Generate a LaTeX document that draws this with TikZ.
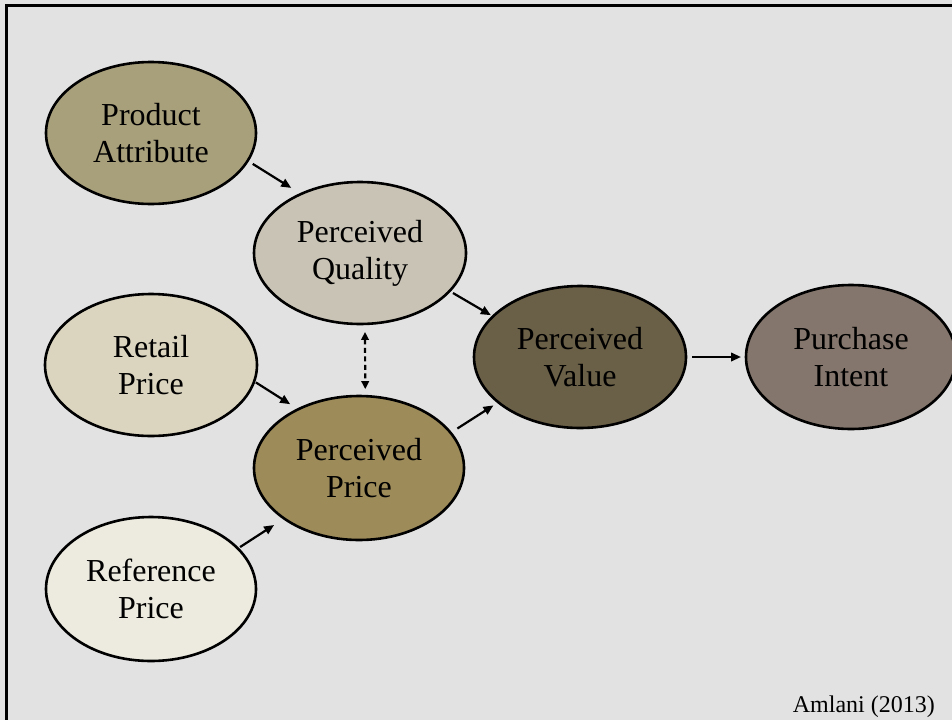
\documentclass[tikz,border=0pt]{standalone}
\usepackage{fontspec}
\setmainfont{Liberation Serif}
\usetikzlibrary{arrows.meta,shapes.geometric}
\definecolor{cBG}{HTML}{E2E2E2}
\definecolor{cPA}{HTML}{A89F7B}
\definecolor{cPQ}{HTML}{C9C3B5}
\definecolor{cRP}{HTML}{DBD5BF}
\definecolor{cPP}{HTML}{9D8B5A}
\definecolor{cRF}{HTML}{EDEBE0}
\definecolor{cPV}{HTML}{6A5F47}
\definecolor{cPI}{HTML}{84766C}
\begin{document}
\begin{tikzpicture}[x=1pt,y=-1pt,
  bub/.style={ellipse,draw=black,line width=2.6pt,minimum width=210pt,minimum height=142pt,
    inner sep=0pt,outer sep=0pt,align=center,font=\fontsize{32}{37}\selectfont,text=black},
  conn/.style={line width=2.2pt,-{Triangle[length=10pt,width=8.5pt]}},
  dconn/.style={line width=2.2pt,dash pattern=on 5pt off 3.5pt,
    {Triangle[length=8pt,width=7.5pt]}-{Triangle[length=8pt,width=7.5pt]}},
]
\clip (0,0) rectangle (952,720);
\fill[cBG] (0,0) rectangle (952,720);
\draw[line width=3.3pt] (5,5.7) -- (952,5.7);
\draw[line width=3.3pt] (6.7,4) -- (6.7,720);

\node[bub,fill=cPA] (pa) at (151,133) {Product\\Attribute};
\node[bub,fill=cPQ,minimum width=212pt] (pq) at (360,253) {Perceived\\Quality};
\node[bub,fill=cRP,minimum width=212pt] (rp) at (151,365) {Retail\\Price};
\node[bub,fill=cPP,minimum height=144pt] (pp) at (359,468) {Perceived\\Price};
\node[bub,fill=cRF,minimum height=144pt] (ref) at (151,589) {Reference\\Price};
\node[bub,fill=cPV,minimum width=212pt] (pv) at (580,357) {Perceived\\Value};
\node[bub,fill=cPI,minimum height=144pt] (pi) at (851,357) {Purchase\\Intent};

\draw[conn,shorten <=6pt,shorten >=11.5pt] (pa.-16.1) -- (pq.135.9);
\draw[conn,shorten <=4pt,shorten >=2.5pt] (pq.-23) -- (pv.155.6);
\draw[conn,shorten <=2pt,shorten >=9.5pt] (rp.-9.3) -- (pp.136.1);
\draw[conn,shorten <=8pt,shorten >=5.8pt] (pp.21.5) -- (pv.-151.3);
\draw[conn,shorten <=2.7pt,shorten >=12pt] (ref.25.1) -- (pp.-146.1);
\draw[conn,shorten <=6pt,shorten >=5pt] (pv.east) -- (pi.west);
\draw[dconn,shorten <=8pt,shorten >=7pt] (pq.-86) -- (pp.85.3);

\node[anchor=base east,font=\fontsize{24}{28}\selectfont,inner sep=0pt] (src) at (935,712) {Amlani (2013)};
\end{tikzpicture}
\end{document}
